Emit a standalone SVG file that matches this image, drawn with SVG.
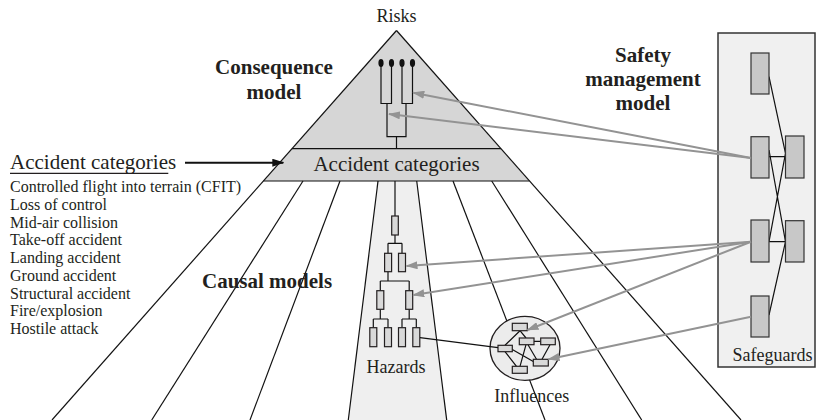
<svg xmlns="http://www.w3.org/2000/svg" width="816" height="420" viewBox="0 0 816 420">
<defs>
<style>
.t{font-family:"Liberation Serif","Times New Roman",serif;fill:#231f20}
.b{font-weight:bold;font-size:21px}
.ln{stroke:#111;stroke-width:1.2;fill:none}
.ga{stroke:#939393;stroke-width:2;fill:none;marker-end:url(#ga)}
.hr{fill:#d9d9d9;stroke:#231f20;stroke-width:1.2}
.sr{fill:#c8c8c8;stroke:#333;stroke-width:1.2}
</style>
<marker id="ga" markerUnits="userSpaceOnUse" markerWidth="12" markerHeight="8" refX="11" refY="4" orient="auto"><path d="M0,0 L12,4 L0,8 z" fill="#939393"/></marker>
<marker id="ba" markerUnits="userSpaceOnUse" markerWidth="12" markerHeight="8" refX="11" refY="4" orient="auto"><path d="M0,0 L12,4 L0,8 z" fill="#111"/></marker>
</defs>
<rect width="816" height="420" fill="#fff"/>

<g id="hazard-lane">
<polygon points="378,181 416.7,181 446.7,420 348.3,420" fill="#efefef"/>
</g>

<g id="pyramid">
<polygon points="396.5,30.5 529.5,181 263.5,181" fill="#d6d6d6"/>
<line class="ln" x1="396.5" y1="30.5" x2="52" y2="420"/>
<line class="ln" x1="396.5" y1="30.5" x2="741" y2="420"/>
<line class="ln" x1="292" y1="148.7" x2="501" y2="148.7"/>
<line class="ln" x1="263.5" y1="181" x2="529.5" y2="181"/>
<line class="ln" x1="303" y1="181" x2="151.7" y2="420"/>
<line class="ln" x1="340" y1="181" x2="250" y2="420"/>
<line class="ln" x1="378" y1="181" x2="348.3" y2="420"/>
<line class="ln" x1="416.7" y1="181" x2="446.7" y2="420"/>
<line class="ln" x1="453" y1="181" x2="545" y2="420"/>
<line class="ln" x1="491.7" y1="181" x2="641.7" y2="420"/>
<text class="t" x="396.5" y="21.5" font-size="18" text-anchor="middle">Risks</text>
<text class="t" x="396.5" y="170.7" font-size="21" text-anchor="middle">Accident categories</text>
</g>

<g id="consequence-tree">
<path class="ln" d="M381,63 V103.5 H391.5 V63 M402,63 V103.5 H412.5 V63 M387,103.5 V136.7 H406 V103.5 M396.5,136.7 V148.7"/>
<ellipse cx="381" cy="63" rx="2.6" ry="4" fill="#111"/>
<ellipse cx="391.5" cy="63" rx="2.6" ry="4" fill="#111"/>
<ellipse cx="402" cy="63" rx="2.6" ry="4" fill="#111"/>
<ellipse cx="412.5" cy="63" rx="2.6" ry="4" fill="#111"/>
</g>

<g id="hazard-tree">
<path class="ln" d="M395,181 V216 M395,235 V243.3 M388,243.3 H402 M388,243.3 V253.3 M402,243.3 V253.3 M388,271.7 V281 M380.3,281 H409.2 M380.3,281 V290.7 M409.2,281 V290.7 M380.3,309.3 V319 M409.2,309.3 V319 M373.3,319 H388 M402,319 H416.3 M373.3,319 V327.7 M388,319 V327.7 M402,319 V327.7 M416.3,319 V327.7"/>
<rect class="hr" x="391.7" y="216" width="6.6" height="19"/>
<rect class="hr" x="384.6" y="253.3" width="7" height="18.4"/>
<rect class="hr" x="398.5" y="253.3" width="7" height="18.4"/>
<rect class="hr" x="376.8" y="290.7" width="7" height="18.6"/>
<rect class="hr" x="405.7" y="290.7" width="7" height="18.6"/>
<rect class="hr" x="369.8" y="327.7" width="7" height="19"/>
<rect class="hr" x="384.5" y="327.7" width="7" height="19"/>
<rect class="hr" x="398.5" y="327.7" width="7" height="19"/>
<rect class="hr" x="412.8" y="327.7" width="7" height="19"/>
<text class="t" x="396" y="373.3" font-size="18" text-anchor="middle">Hazards</text>
</g>

<g id="influences">
<ellipse cx="525" cy="348.3" rx="35" ry="32" fill="#ececec" stroke="#231f20" stroke-width="1.3"/>
<path class="ln" d="M520,330.7 L526,338 M505,345.3 L520,330.7 M534,341.3 H540.7 M526,344.7 L520,366.3 M528,344.7 L536.5,359.3 M550,344.7 L542,359.3 M512.3,349.5 L533.3,361.5 M505,351.7 L516.5,366.3"/>
<rect class="hr" x="512.3" y="323.3" width="15" height="7.4"/>
<rect class="hr" x="519.3" y="338" width="14.7" height="6.7"/>
<rect class="hr" x="540.7" y="338" width="14.6" height="6.7"/>
<rect class="hr" x="498" y="345.3" width="14.3" height="6.4"/>
<rect class="hr" x="533.3" y="359.3" width="15" height="6.7"/>
<rect class="hr" x="512.3" y="366.3" width="15" height="7"/>
<text class="t" x="531.7" y="401.7" font-size="18" text-anchor="middle">Influences</text>
</g>

<g id="safeguards">
<rect x="718" y="33" width="97" height="334" fill="#f0f0f0" stroke="#333" stroke-width="1.5"/>
<path class="ln" d="M769,76.7 L785.5,153.3 M769,156.7 H785.5 M769,150 L785.5,241.7 M785.5,153.3 L769,241.7 M769,241.7 H785.5 M769,315 L785.5,241.7"/>
<rect class="sr" x="751" y="53" width="18" height="41"/>
<rect class="sr" x="751" y="136.7" width="18" height="41.3"/>
<rect class="sr" x="751" y="220" width="18" height="42"/>
<rect class="sr" x="751" y="296" width="18" height="41"/>
<rect class="sr" x="785.5" y="136" width="18.5" height="42"/>
<rect class="sr" x="785.5" y="220.7" width="18.5" height="41.3"/>
<text class="t" x="772.5" y="360.7" font-size="18" text-anchor="middle">Safeguards</text>
</g>

<g id="labels">
<text class="t b" x="274" y="74" text-anchor="middle">Consequence</text>
<text class="t b" x="274" y="99" text-anchor="middle">model</text>
<text class="t b" x="643" y="62" text-anchor="middle">Safety</text>
<text class="t b" x="643" y="86" text-anchor="middle">management</text>
<text class="t b" x="643" y="110" text-anchor="middle">model</text>
<text class="t b" x="202" y="288.3">Causal models</text>
</g>

<g id="accident-categories">
<text class="t" x="10" y="168.5" font-size="21">Accident categories</text>
<line x1="10" y1="173.3" x2="168.3" y2="173.3" stroke="#231f20" stroke-width="1.2"/>
<g class="t" font-size="16">
<text x="10" y="192.3">Controlled flight into terrain (CFIT)</text>
<text x="10" y="210">Loss of control</text>
<text x="10" y="227.7">Mid-air collision</text>
<text x="10" y="245.4">Take-off accident</text>
<text x="10" y="263.1">Landing accident</text>
<text x="10" y="280.8">Ground accident</text>
<text x="10" y="298.5">Structural accident</text>
<text x="10" y="316.2">Fire/explosion</text>
<text x="10" y="333.9">Hostile attack</text>
</g>
</g>

<g id="connectors">
<line x1="185" y1="162.7" x2="283.3" y2="162.7" stroke="#111" stroke-width="2" marker-end="url(#ba)"/>
<line x1="420" y1="337.7" x2="498" y2="347.7" stroke="#111" stroke-width="1.2"/>
<line class="ga" x1="751" y1="158" x2="413.3" y2="92.7"/>
<line class="ga" x1="751" y1="158" x2="389" y2="114"/>
<line class="ga" x1="751" y1="241.7" x2="406.5" y2="266"/>
<line class="ga" x1="751" y1="241.7" x2="413.3" y2="295"/>
<line class="ga" x1="751" y1="241.7" x2="527.5" y2="330"/>
<line class="ga" x1="751" y1="316.7" x2="548.5" y2="359.3"/>
</g>
</svg>
